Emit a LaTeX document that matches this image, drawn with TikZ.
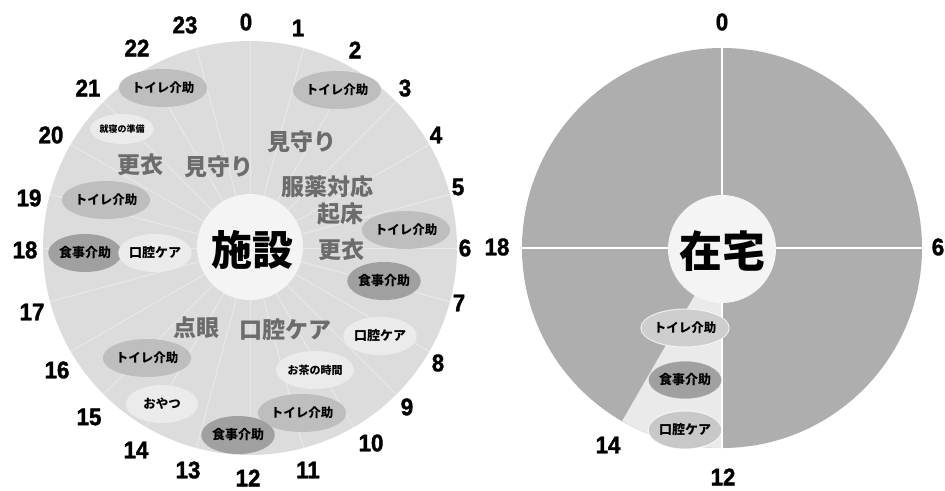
\documentclass[tikz,border=0pt]{standalone}
\usepackage{fontspec}
\setmainfont{Liberation Sans}
\newfontfamily\numfont{Liberation Sans}[BoldFeatures={FakeBold=1.6,FakeStretch=0.93}]
\newfontfamily\jp{Noto Sans CJK JP}
\usetikzlibrary{shapes.geometric}
\definecolor{leftfill}{RGB}{220,220,220}
\definecolor{rightfill}{RGB}{174,174,174}
\definecolor{wedgefill}{RGB}{234,234,234}
\definecolor{toilet}{RGB}{190,190,190}
\definecolor{meal}{RGB}{160,160,160}
\definecolor{lightell}{RGB}{235,235,235}
\definecolor{bigtxt}{RGB}{108,108,108}
\definecolor{hubfill}{RGB}{244,244,244}
\tikzset{
  hour/.style={font=\numfont\bfseries\fontsize{24}{24}\selectfont, text=black, inner sep=0pt},
  ell/.style={ellipse, minimum width=72pt, minimum height=38pt, inner sep=0pt,
              font=\jp\bfseries\fontsize{12.5}{13}\selectfont, text=black},
  toil/.style={ell, fill=toilet},
  mealell/.style={ell, fill=meal},
  lite/.style={ell, fill=lightell},
  big/.style={font=\jp\bfseries\fontsize{23}{24}\selectfont, text=bigtxt, inner sep=0pt},
  hub/.style={circle, fill=hubfill, inner sep=0pt},
  spoke/.style={white, line width=1pt, opacity=0.35}
}
\begin{document}
\begin{tikzpicture}[x=1pt,y=-1pt]
\useasboundingbox (0,0) rectangle (945,490);
\fill[white] (0,0) rectangle (945,490);
%% ---------- left clock ----------
\coordinate (lc) at (250,248);
\fill[leftfill] (lc) circle (207);
\foreach \h in {0,...,23}{
  \draw[spoke] (lc) -- ++({-90+15*\h}:207);
}
\node[hub, minimum size=106pt] (lhub) at (250,247) {};
\node[font=\jp\bfseries\fontsize{41}{42}\selectfont] (shisetsu) at (252,250) {施設};
% hour labels
\foreach \h/\x/\y in {0/246/22,1/298/28,2/355/50,3/405/88,4/436/135,5/458/187,
  6/465/248,7/459/303,8/438/363,9/407/407,10/371/443,11/308/470,12/248/478,
  13/188/470,14/136/450,15/89/417,16/57/370,17/32/312,18/25/250,19/29/198,
  20/51/135,21/88/88,22/137/48,23/185/25}{
  \node[hour] (L\h) at (\x,\y) {\h};
}
% activities
\node[toil] (a1) at (163,88) {トイレ介助};
\node[toil] (a2) at (337,90) {トイレ介助};
\node[lite, minimum width=56pt, minimum height=30pt, font=\jp\bfseries\fontsize{9}{9}\selectfont] (a3) at (122,129) {就寝の準備};
\node[big] (a4) at (140,165) {更衣};
\node[big] (a5) at (219,167) {見守り};
\node[big] (a6) at (302,142) {見守り};
\node[big] (a7) at (327,187) {服薬対応};
\node[big] (a8) at (340,214) {起床};
\node[big] (a9) at (341,250) {更衣};
\node[toil] (a10) at (406,230) {トイレ介助};
\node[toil] (a11) at (106,200) {トイレ介助};
\node[mealell, font=\jp\bfseries\fontsize{13}{13}\selectfont] (a12) at (85,253) {食事介助};
\node[lite, font=\jp\bfseries\fontsize{13}{13}\selectfont] (a13) at (155,253) {口腔ケア};
\node[mealell, font=\jp\bfseries\fontsize{13}{13}\selectfont] (a14) at (384,281) {食事介助};
\node[big] (a15) at (196,328) {点眼};
\node[big] (a16) at (285,330) {口腔ケア};
\node[lite, font=\jp\bfseries\fontsize{13}{13}\selectfont] (a17) at (380,336) {口腔ケア};
\node[toil] (a18) at (147,358) {トイレ介助};
\node[lite, font=\jp\bfseries\fontsize{11}{11}\selectfont] (a19) at (315,370) {お茶の時間};
\node[lite, font=\jp\bfseries\fontsize{12.5}{13}\selectfont] (a20) at (162,404) {おやつ};
\node[toil] (a21) at (302,413) {トイレ介助};
\node[mealell, font=\jp\bfseries\fontsize{13}{13}\selectfont] (a22) at (238,435) {食事介助};
%% ---------- right clock ----------
\coordinate (rc) at (722,248);
\fill[rightfill] (rc) circle (200);
\fill[wedgefill] (rc) -- ++(90:200) arc[start angle=90, end angle=120, radius=200] -- cycle;
\draw[white, line width=1.2pt] (722,48) -- (722,448);
\draw[white, line width=1.2pt] (522,248) -- (922,248);
\node[hub, minimum size=108pt] (rhub) at (722,249) {};
\node[font=\jp\bfseries\fontsize{43}{44}\selectfont] (zaitaku) at (722,251) {在宅};
\node[ell, fill=toilet!75!white, draw=white, draw opacity=0.7, line width=1pt] (r1) at (685,328) {トイレ介助};
\node[ell, fill=meal, draw=white, draw opacity=0.5, line width=1pt, font=\jp\bfseries\fontsize{13}{13}\selectfont] (r2) at (685,380) {食事介助};
\node[ell, fill=toilet!85!white, draw=white, draw opacity=0.7, line width=1pt, font=\jp\bfseries\fontsize{13}{13}\selectfont] (r3) at (685,430) {口腔ケア};
\node[hour] (R0) at (722,22) {0};
\node[hour] (R6) at (938,247) {6};
\node[hour] (R18) at (497,247) {18};
\node[hour] (R12) at (723,477) {12};
\node[hour] (R14) at (608,445) {14};
\end{tikzpicture}
\end{document}
